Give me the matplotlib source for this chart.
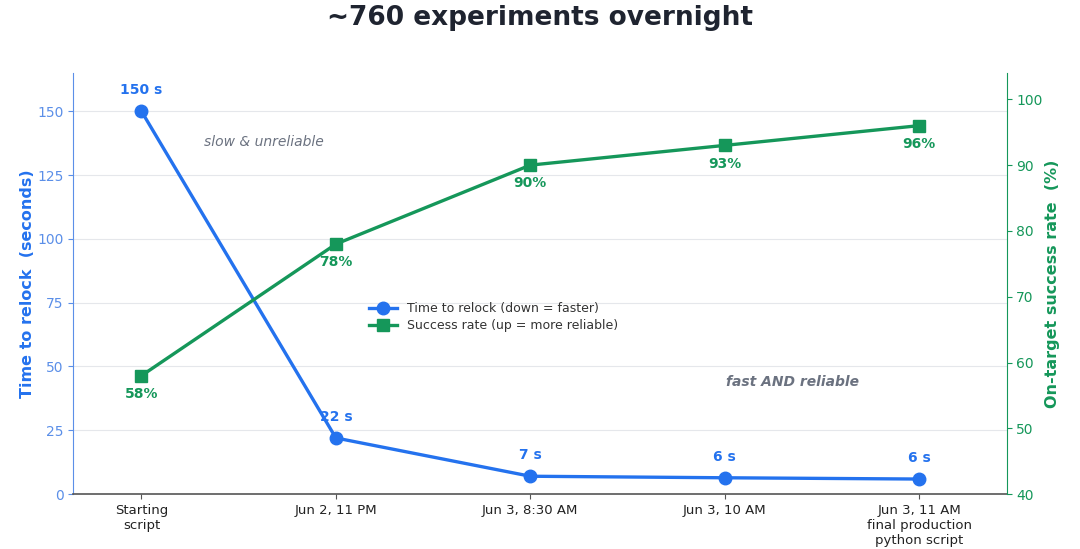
import matplotlib
matplotlib.use("Agg")
import matplotlib.pyplot as plt

# Chart data
stages = ["Starting\nscript", "Jun 2, 11 PM", "Jun 3, 8:30 AM", "Jun 3, 10 AM",
          "Jun 3, 11 AM\nfinal production\npython script"]
relock_time = [150, 22, 7, 6.4, 5.9]
success_rate = [58, 78, 90, 93, 96]

BLUE = "#2472ee"
BLUE_LIGHT = "#5b8fe8"
GREEN = "#15975a"
GRAY = "#6b7280"

fig, ax = plt.subplots(figsize=(10.8, 5.49), dpi=100)
fig.subplots_adjust(left=0.068, right=0.932, top=0.867, bottom=0.10)
ax2 = ax.twinx()

x = list(range(len(stages)))
l1, = ax.plot(x, relock_time, color=BLUE, lw=2.4, marker="o", ms=9,
              label="Time to relock (down = faster)", zorder=3)
l2, = ax2.plot(x, success_rate, color=GREEN, lw=2.4, marker="s", ms=8,
               label="Success rate (up = more reliable)", zorder=3)

for xi, v in zip(x, relock_time):
    ax.annotate(f"{v:.0f} s", (xi, v), xytext=(0, 10), textcoords="offset points",
                ha="center", va="bottom", color=BLUE, fontsize=10, fontweight="bold")
for xi, v in zip(x, success_rate):
    ax2.annotate(f"{v}%", (xi, v), xytext=(0, -8), textcoords="offset points",
                 ha="center", va="top", color=GREEN, fontsize=10, fontweight="bold")

ax.set_xlim(-0.35, 4.45)
ax.set_ylim(0, 165)
ax2.set_ylim(40, 104)
ax.set_yticks([0, 25, 50, 75, 100, 125, 150])
ax2.set_yticks([40, 50, 60, 70, 80, 90, 100])
ax.set_xticks(x)
ax.set_xticklabels(stages, fontsize=9.5, color="#222222")

ax.grid(axis="y", color="#e5e7eb", lw=0.8)
ax.set_axisbelow(True)

ax.tick_params(axis="y", colors=BLUE_LIGHT, labelsize=10)
ax2.tick_params(axis="y", colors=GREEN, labelsize=10)
ax.tick_params(axis="x", colors="#555555")
for lbl in ax.get_xticklabels():
    lbl.set_color("#222222")

ax.set_ylabel("Time to relock  (seconds)", color=BLUE, fontsize=11.5, fontweight="bold", labelpad=2)
ax2.set_ylabel("On-target success rate  (%)", color=GREEN, fontsize=11.5, fontweight="bold", labelpad=2)

for a in (ax, ax2):
    a.spines["top"].set_visible(False)
ax.spines["left"].set_color(BLUE_LIGHT)
ax2.spines["left"].set_visible(False)
ax2.spines["right"].set_color(GREEN)
ax.spines["right"].set_visible(False)
ax2.spines["bottom"].set_visible(False)
ax.spines["bottom"].set_color("#555555")
ax.spines["bottom"].set_linewidth(1.2)

ax.text(0.32, 138, "slow & unreliable", color=GRAY, fontsize=10, style="italic", ha="left", va="center")
ax.text(3.35, 44, "fast AND reliable", color=GRAY, fontsize=10, style="italic",
        fontweight="bold", ha="center", va="center")

leg = ax2.legend(handles=[l1, l2], loc="center", bbox_to_anchor=(0.45, 0.42), frameon=False, fontsize=9,
                 handlelength=2.2, borderaxespad=0, labelspacing=0.3)
for t in leg.get_texts():
    t.set_color("#333333")

fig.suptitle("~760 experiments overnight", fontsize=19, fontweight="bold", color="#1f2430", y=0.99)

fig.savefig("out.png", dpi=100)
